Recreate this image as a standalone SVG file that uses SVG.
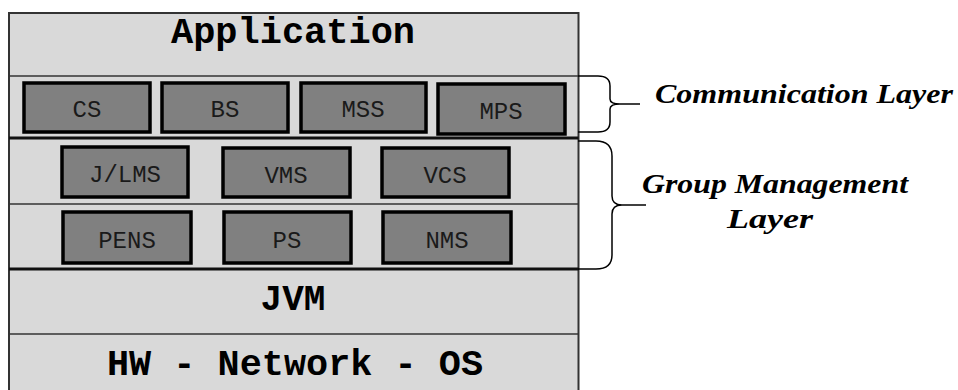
<svg xmlns="http://www.w3.org/2000/svg" width="958" height="390" viewBox="0 0 958 390">
  <style>
    .frame { fill: #d9d9d9; stroke: #333; stroke-width: 2; }
    .thin { stroke: #333; stroke-width: 1.5; fill: none; }
    .thick { stroke: #111; stroke-width: 3; fill: none; }
    .box { fill: #808080; stroke: #000; stroke-width: 3.5; }
    .lbl { font-family: "Liberation Mono", "Courier New", monospace; font-size: 24px; fill: #1a1a1a; text-anchor: middle; }
    .big { font-family: "Liberation Mono", "Courier New", monospace; font-size: 36px; font-weight: bold; fill: #000; text-anchor: middle; }
    .side { font-family: "Liberation Serif", "Times New Roman", serif; font-size: 27px; font-weight: bold; font-style: italic; fill: #000; }
    .brace { stroke: #000; stroke-width: 1.5; fill: none; }
  </style>

  <!-- layer stack frame -->
  <g id="stack">
    <rect class="frame" x="9" y="13" width="569.5" height="390"/>
    <line class="thin" x1="9" y1="76" x2="578.5" y2="76"/>
    <line class="thick" x1="9" y1="138" x2="578.5" y2="138"/>
    <line class="thin" x1="9" y1="204" x2="578.5" y2="204"/>
    <line class="thick" x1="9" y1="269" x2="578.5" y2="269"/>
    <line class="thin" x1="9" y1="334" x2="578.5" y2="334"/>
  </g>

  <g id="application"><text class="big" x="293" y="43" textLength="244" lengthAdjust="spacingAndGlyphs">Application</text></g>

  <!-- communication layer services -->
  <g id="cs"><rect class="box" x="24" y="83" width="126" height="49"/><text class="lbl" x="87" y="117">CS</text></g>
  <g id="bs"><rect class="box" x="162" y="83" width="126" height="49"/><text class="lbl" x="225" y="117">BS</text></g>
  <g id="mss"><rect class="box" x="301" y="83" width="125" height="49"/><text class="lbl" x="363" y="117">MSS</text></g>
  <g id="mps"><rect class="box" x="438" y="84" width="127" height="50"/><text class="lbl" x="501" y="119">MPS</text></g>

  <!-- group management services -->
  <g id="jlms"><rect class="box" x="62" y="147" width="126" height="50"/><text class="lbl" x="125" y="182">J/LMS</text></g>
  <g id="vms"><rect class="box" x="223" y="148" width="127" height="49"/><text class="lbl" x="286" y="183">VMS</text></g>
  <g id="vcs"><rect class="box" x="382" y="148" width="127" height="49"/><text class="lbl" x="445" y="183">VCS</text></g>
  <g id="pens"><rect class="box" x="63" y="212" width="128" height="51"/><text class="lbl" x="127" y="248">PENS</text></g>
  <g id="ps"><rect class="box" x="224" y="212" width="127" height="51"/><text class="lbl" x="287" y="248">PS</text></g>
  <g id="nms"><rect class="box" x="383" y="212" width="128" height="51"/><text class="lbl" x="447" y="248">NMS</text></g>

  <g id="jvm"><text class="big" x="293" y="310">JVM</text></g>
  <g id="hw"><text class="big" x="295" y="375" textLength="376" lengthAdjust="spacingAndGlyphs">HW - Network - OS</text></g>

  <!-- braces -->
  <g id="connectors">
    <path class="brace" d="M578,76 H598 Q610,76 610,86 V99 Q610,104 620,104 Q610,104 610,109 V122 Q610,132 598,132 H578"/>
    <line class="brace" x1="620" y1="104" x2="640" y2="104"/>
    <path class="brace" d="M578,141 H596 Q612,141 612,156 V196 Q612,205 622,205 Q612,205 612,214 V255 Q612,269 596,269 H578"/>
    <line class="brace" x1="622" y1="205" x2="646" y2="205"/>
  </g>

  <g id="comm-label"><text class="side" x="655" y="103" textLength="298" lengthAdjust="spacingAndGlyphs">Communication Layer</text></g>
  <g id="group-label">
    <text class="side" x="642" y="193" textLength="266" lengthAdjust="spacingAndGlyphs">Group Management</text>
    <text class="side" x="727" y="228" textLength="86" lengthAdjust="spacingAndGlyphs">Layer</text>
  </g>
</svg>
